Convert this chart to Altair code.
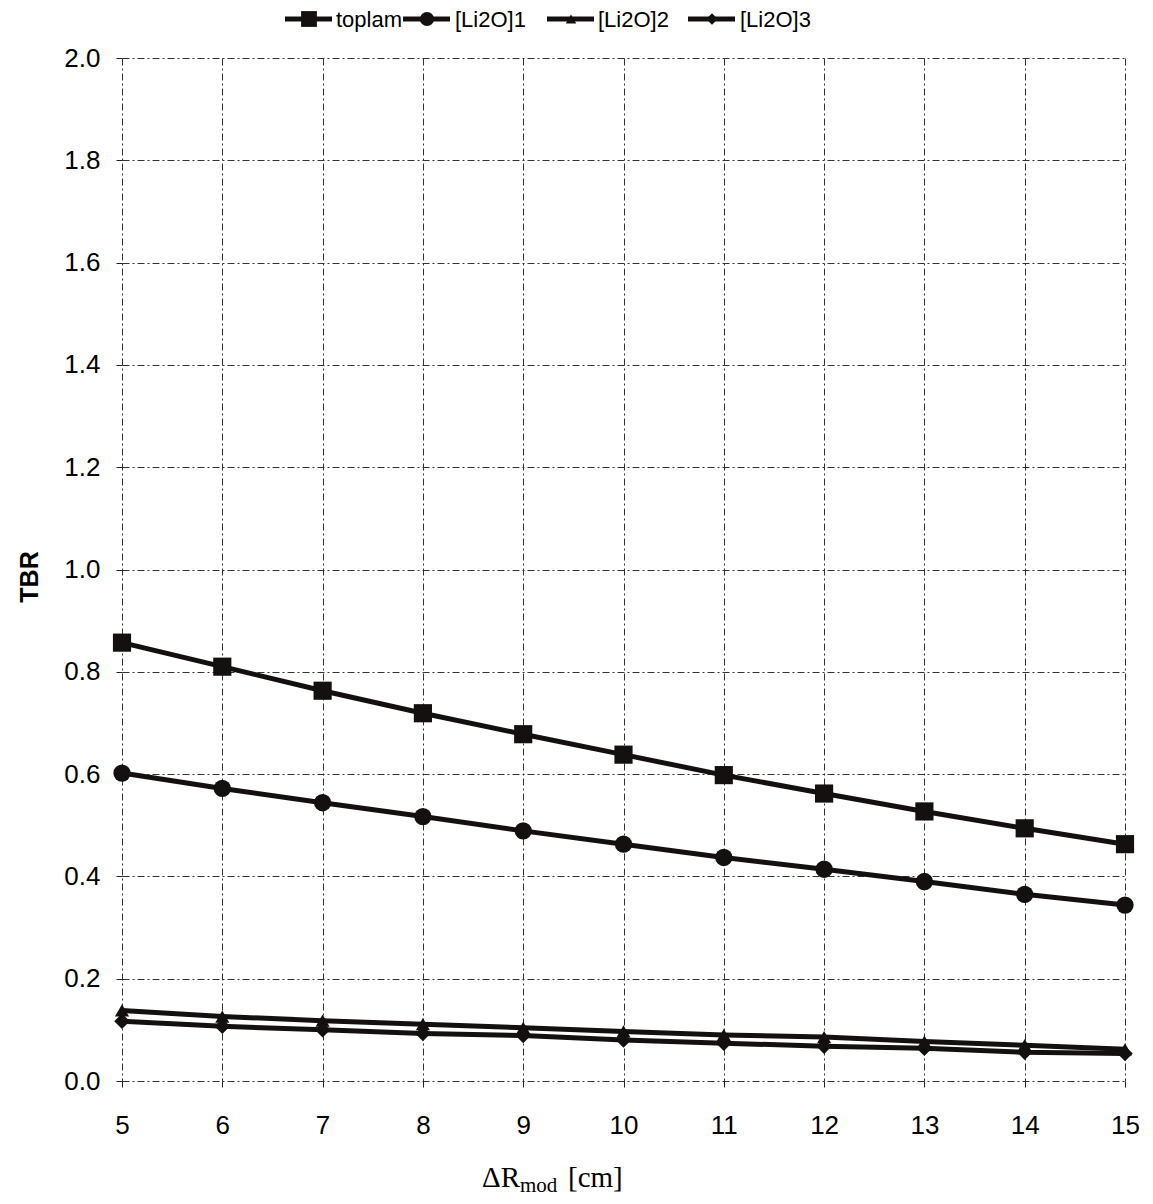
import altair as alt
import pandas as pd

# ---- data ----
dr_mod = [5, 6, 7, 8, 9, 10, 11, 12, 13, 14, 15]
toplam = [0.857, 0.810, 0.763, 0.719, 0.678, 0.638, 0.598, 0.562, 0.527, 0.494, 0.463]
li2o_1 = [0.602, 0.572, 0.544, 0.517, 0.489, 0.463, 0.437, 0.414, 0.390, 0.365, 0.344]
li2o_2 = [0.138, 0.126, 0.118, 0.111, 0.104, 0.097, 0.090, 0.086, 0.077, 0.070, 0.062]
li2o_3 = [0.117, 0.107, 0.100, 0.093, 0.089, 0.080, 0.074, 0.068, 0.064, 0.056, 0.054]
series_names = ["toplam", "[Li2O]1", "[Li2O]2", "[Li2O]3"]
series_values = [toplam, li2o_1, li2o_2, li2o_3]
x_ticks = list(range(5, 16))
y_ticks = [0.0, 0.2, 0.4, 0.6, 0.8, 1.0, 1.2, 1.4, 1.6, 1.8, 2.0]

rows = []
for name, vals in zip(series_names, series_values):
    for x, v in zip(dr_mod, vals):
        rows.append({"series": name, "x": x, "tbr": v})
df = pd.DataFrame(rows)

W, H = 1003, 1023
INK = "#141010"
FONT = "Liberation Sans"
SERIF = "Liberation Serif"

shapes = ["square", "circle", "triangle-up", "diamond"]
sizes = [330, 300, 200, 240]

xs = alt.X("x:Q", scale=alt.Scale(domain=[5, 15], nice=False, zero=False),
           axis=alt.Axis(values=x_ticks, format="d", title=None, grid=True,
                         gridColor="#333333", gridDash=[7, 3, 2, 3], gridWidth=1,
                         domain=False, ticks=True, tickSize=6, tickColor="#222222",
                         labelFontSize=26, labelFont=FONT, labelColor="black",
                         labelFlush=False, labelPadding=25))
ys = alt.Y("tbr:Q", scale=alt.Scale(domain=[0, 2.0], nice=False),
           axis=alt.Axis(values=y_ticks, format=".1f", title=None, grid=True,
                         gridColor="#333333", gridDash=[7, 3, 2, 3], gridWidth=1,
                         domain=False, ticks=True, tickSize=6, tickColor="#222222",
                         labelFontSize=26, labelFont=FONT, labelColor="black",
                         labelFlush=False, labelPadding=16))

layers = []
for i, name in enumerate(series_names):
    sub = df[df.series == name]
    base = alt.Chart(sub)
    line = base.mark_line(color=INK, strokeWidth=5).encode(x=xs, y=ys)
    pts = base.mark_point(shape=shapes[i], size=sizes[i], filled=True, color=INK,
                          opacity=1).encode(x="x:Q", y="tbr:Q")
    layers += [line, pts]

# ---- manual legend across the top ----
leg_line_x = [163, 281, 425, 566]
leg_text_x = [214, 333, 476, 618]
leg_y = -39
leg_sizes = [250, 200, 110, 130]
for i, name in enumerate(series_names):
    ldf = pd.DataFrame({"series": [name]})
    lb = alt.Chart(ldf)
    x0 = leg_line_x[i]
    layers.append(lb.mark_rule(color=INK, strokeWidth=5).encode(
        x=alt.value(x0), x2=alt.value(x0 + 47), y=alt.value(leg_y)))
    layers.append(lb.mark_point(shape=shapes[i], size=leg_sizes[i], filled=True,
                                color=INK, opacity=1).encode(
        x=alt.value(x0 + 24), y=alt.value(leg_y)))
    layers.append(lb.mark_text(align="left", baseline="middle", font=FONT,
                               fontSize=22, color="black").encode(
        x=alt.value(leg_text_x[i]), y=alt.value(leg_y + 1), text="series:N"))

# ---- axis titles ----
tdf = pd.DataFrame({"t": ["TBR"]})
layers.append(alt.Chart(tdf).mark_text(angle=270, font=FONT, fontSize=25,
                                       fontWeight="bold", color="black",
                                       align="center", baseline="middle").encode(
    x=alt.value(-92), y=alt.value(519), text="t:N"))

xt = pd.DataFrame({"a": ["ΔR"], "b": ["mod"], "c": ["[cm]"]})
xb = alt.Chart(xt)
layers.append(xb.mark_text(font=SERIF, fontSize=29, color="black", align="left",
                           baseline="alphabetic").encode(
    x=alt.value(360), y=alt.value(1129), text="a:N"))
layers.append(xb.mark_text(font=SERIF, fontSize=21, color="black", align="left",
                           baseline="alphabetic").encode(
    x=alt.value(398), y=alt.value(1134), text="b:N"))
layers.append(xb.mark_text(font=SERIF, fontSize=29, color="black", align="left",
                           baseline="alphabetic").encode(
    x=alt.value(446), y=alt.value(1129), text="c:N"))

chart = alt.layer(*layers).properties(
    width=W, height=H,
    autosize=alt.AutoSizeParams(type="none"),
    padding={"left": 122, "top": 58, "right": 28, "bottom": 123},
    background="white",
).configure_view(stroke=None)

chart.save("out.html", embed_options={"renderer": "svg", "actions": False})
